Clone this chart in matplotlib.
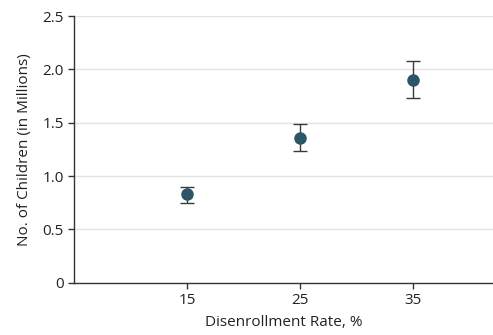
import matplotlib
matplotlib.use("Agg")
import matplotlib.pyplot as plt

rates = [15, 25, 35]
children = [0.83, 1.36, 1.90]
lower = [0.75, 1.235, 1.73]
upper = [0.90, 1.485, 2.08]
yticks = [0, 0.5, 1.0, 1.5, 2.0, 2.5]
ytick_labels = ["0", "0.5", "1.0", "1.5", "2.0", "2.5"]

plt.rcParams['font.family'] = ['Open Sans', 'DejaVu Sans']

fig = plt.figure(figsize=(4.93, 3.35), dpi=100)
ax = fig.add_axes([0.150, 0.156, 0.850, 0.796])

yerr = [[c - l for c, l in zip(children, lower)], [u - c for c, u in zip(children, upper)]]
ax.errorbar(rates, children, yerr=yerr, fmt='o', color='#2b5667', markersize=8,
            ecolor='#3a3a3a', elinewidth=1.0, capsize=5, capthick=1.0, zorder=3)

ax.set_xlim(5, 42.1)
ax.set_ylim(0, 2.5)
ax.set_xticks(rates)
ax.set_xticklabels([str(r) for r in rates])
ax.set_yticks(yticks)
ax.set_yticklabels(ytick_labels)
ax.yaxis.grid(True, color='#e3e3e3', linewidth=1)
ax.set_axisbelow(True)
for s in ['top', 'right']:
    ax.spines[s].set_visible(False)
for s in ['left', 'bottom']:
    ax.spines[s].set_color('#333333')
    ax.spines[s].set_linewidth(1)
ax.tick_params(axis='both', length=4, width=1, color='#333333', labelsize=11, labelcolor='#222222')
ax.set_xlabel("Disenrollment Rate, %", fontsize=11, color='#222222', labelpad=5)
ax.set_ylabel("No. of Children (in Millions)", fontsize=11, color='#222222', labelpad=7)

fig.savefig("out.png", dpi=100)
